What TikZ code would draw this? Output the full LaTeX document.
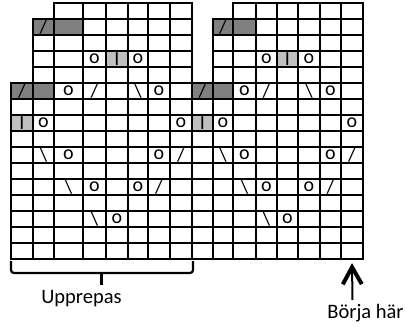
\documentclass[tikz,border=0pt]{standalone}
\usepackage{fontspec}
\setmainfont{Carlito}
\usetikzlibrary{arrows.meta,positioning,backgrounds}
\newcommand\sR{/}
\newcommand\sL{\textbackslash}

\begin{document}
\begin{tikzpicture}[
  x=1pt,y=-1pt,
  cellbox/.style={draw,line width=2.2pt,inner sep=0pt,minimum height=16pt},
  sym/.style={inner sep=0pt,font=\fontsize{20}{22}\selectfont},
  darkcell/.style={fill=black!50},
  lightcell/.style={fill=black!25},
  txt/.style={font=\fontsize{20.5}{24}\selectfont,anchor=base,inner sep=0pt},
  bracket/.style={line width=2.2pt,rounded corners=3pt},
  startarr/.style={-{Straight Barb[length=17pt,width=19pt,line width'=4pt]},line width=2pt}
]
\useasboundingbox (0,0) rectangle (405,327);

% the two repeats, cell by cell
\foreach \ch/\cols in {L/{11/33/6,33/54/2,54/83/1,83/106/1,106/128/1,128/148/1,148/170/1,170/192/1},
                       R/{192/213/6,213/233/2,233/256/1,256/277/1,277/298/1,298/320/1,320/341/1,341/363/1}}
  \foreach \xa/\xb/\top [count=\c] in \cols
    \foreach \r in {\top,...,16}
      \node[cellbox,minimum width={(\xb-\xa)*1pt}] (\ch\c-\r) at ({(\xa+\xb)/2},{16*\r-5}) {};

\begin{scope}[on background layer]
\foreach \ch in {L,R} {
  \fill[darkcell] (\ch2-2.north west) rectangle (\ch3-2.south east);
  \fill[darkcell] (\ch1-6.north west) rectangle (\ch2-6.south east);
  \fill[lightcell] (\ch5-4.north west) rectangle (\ch5-4.south east);
  \fill[lightcell] (\ch1-8.north west) rectangle (\ch1-8.south east);
}
\end{scope}

\foreach \ch in {L,R}
  \foreach \c/\r/\s in {2/2/\sR,4/4/o,5/4/I,6/4/o,1/6/\sR,3/6/o,4/6/\sR,6/6/\sL,7/6/o,
                        1/8/I,2/8/o,8/8/o,2/10/\sL,3/10/o,7/10/o,8/10/\sR,
                        3/12/\sL,4/12/o,6/12/o,7/12/\sR,4/14/\sL,5/14/o}
    \node[sym] (\ch\c-\r-s) at (\ch\c-\r) {\s};

% brace under the repeat
\coordinate (bl) at (11,261);
\coordinate (br) at (193,261);
\coordinate (bmid) at (101.5,273);
\coordinate (btip) at (101.5,285);
\draw[bracket] (bl) |- (bmid) -| (br);
\draw[bracket] (bmid) -- (btip);
\node[txt] (rep) at (81.5,303.5) {Upprepas};

\node[txt] (start) at (365.5,318.5) {Börja här};
\coordinate (foot) at (352.5,300);
\draw[startarr] (foot) -- ([yshift=-3pt]R8-16.south);
\end{tikzpicture}
\end{document}
